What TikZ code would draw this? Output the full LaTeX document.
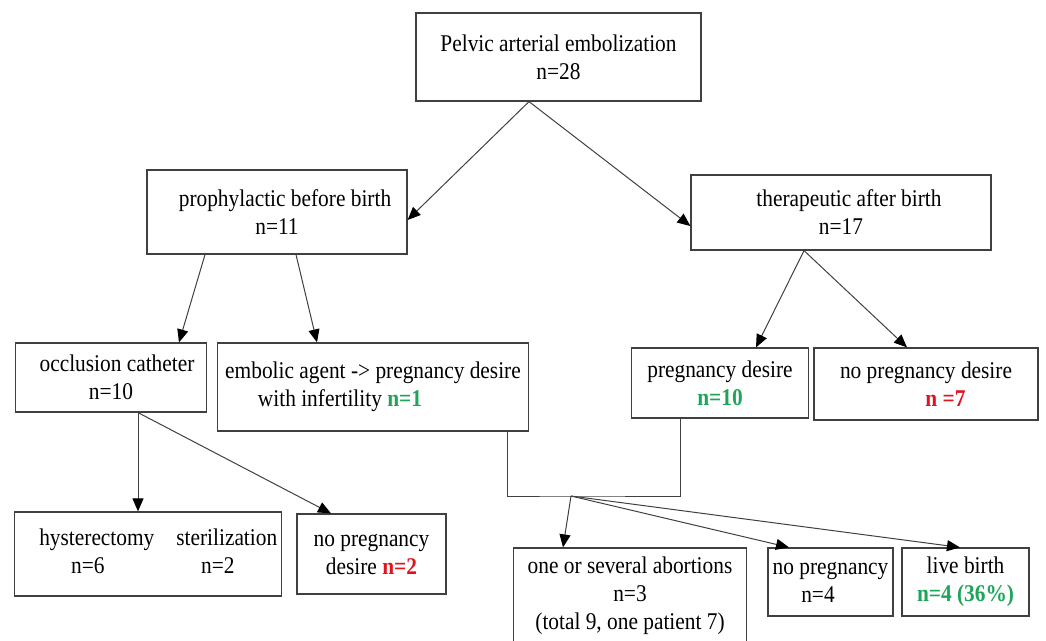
\documentclass[tikz,border=0pt]{standalone}
\usepackage{fontspec}
\setmainfont{Liberation Serif}[FakeStretch=0.89]
\usepackage{xcolor}
\usetikzlibrary{arrows.meta,calc,positioning}
\definecolor{okgreen}{RGB}{30,165,90}
\definecolor{badred}{RGB}{225,20,30}
\definecolor{boxline}{RGB}{64,64,64}
\newcommand{\good}[1]{\textcolor{okgreen}{\textbf{#1}}}
\newcommand{\bad}[1]{\textcolor{badred}{\textbf{#1}}}

\begin{document}
\begin{tikzpicture}[
    x=1pt, y=-1pt,
    font=\fontsize{24}{28}\selectfont,
    box/.style={rectangle, draw=boxline, line width=1.2pt, inner sep=0, align=center},
    link/.style={draw=black!75, line width=1pt},
    arr/.style={link, -{Triangle[length=13pt,width=11pt,black]}}]
\useasboundingbox (0,0) rectangle (1046,640);
\clip (0,0) rectangle (1046,640);

\node[box, minimum width=285pt, minimum height=88pt] (top) at (558.5,57) {Pelvic arterial embolization\\ n=28};
\node[box, minimum width=260pt, minimum height=84pt] (pro) at (277,212) {\hspace*{16pt}prophylactic before birth\\ n=11};
\node[box, minimum width=300pt, minimum height=75pt] (ther) at (841,212.5) {\hspace*{16pt}therapeutic after birth\\ n=17};
\node[box, minimum width=191pt, minimum height=69pt] (occ) at (111,377.5) {\hspace*{12pt}occlusion catheter\\ n=10};
\node[box, minimum width=310.5pt, minimum height=88pt] (emb) at (373,387) {embolic agent -> pregnancy desire\\ with infertility \good{n=1}\hspace*{66pt}};
\node[box, minimum width=176.5pt, minimum height=70pt] (preg) at (720,383) {pregnancy desire\\ \good{n=10}};
\node[box, minimum width=224pt, minimum height=72pt] (nopd) at (926,384) {no pregnancy desire\\ \hspace*{39pt}\bad{n =7}};
\node[box, minimum width=267.5pt, minimum height=84pt] (hyst) at (148,554) {%
    \begin{tabular}{@{\hspace{20.5pt}}c@{\hspace{22pt}}c@{}}
    hysterectomy & sterilization\\
    n=6\hspace*{18pt} & n=2\hspace*{18pt}
    \end{tabular}};
\node[box, minimum width=149pt, minimum height=80pt] (nopl) at (371.5,554) {no pregnancy\\ desire \bad{n=2}};
\node[box, minimum width=233.5pt, minimum height=96pt] (abo) at (630,596) {one or several abortions\\ n=3\hspace*{26pt}\\ (total 9, one patient 7)};
\node[box, minimum width=125pt, minimum height=68pt] (nop) at (830.5,582) {no pregnancy\\ n=4\hspace*{25pt}};
\node[box, minimum width=127pt, minimum height=68pt] (live) at (965.5,582) {live birth\\ \good{n=4 (36\%)}};

\path[arr] ($(top.south)+(-29.5,0)$) -- ($(pro.east)+(0,8)$);
\path[arr] ($(top.south)+(-29.5,0)$) -- ($(ther.west)+(0,13.5)$);
\path[arr] ($(pro.south)+(-72,0)$) -- ($(occ.north)+(68,0)$);
\path[arr] ($(pro.south)+(19,0)$) -- ($(emb.north)+(-56,0)$);
\path[arr] ($(ther.south)+(-37,0)$) -- ($(preg.north)+(36,0)$);
\path[arr] ($(ther.south)+(-37,0)$) -- ($(nopd.north)+(-19,0)$);
\path[arr] ($(occ.south)+(27,0)$) -- ($(hyst.north)+(-10,0)$);
\path[arr] ($(occ.south)+(27,0)$) -- ($(nopl.north)+(-40.5,0)$);

\coordinate (join) at (571,496);
\path[link] ($(emb.south)+(134,0)$) |- (join) -| ($(preg.south)+(-40,0)$);
\path[arr] (join) -- ($(abo.north)+(-67,0)$);
\path[arr] (join) -- ($(nop.north)+(-41.5,0)$);
\path[arr] (join) -- ($(live.north)+(-5.5,0)$);

\end{tikzpicture}
\end{document}
